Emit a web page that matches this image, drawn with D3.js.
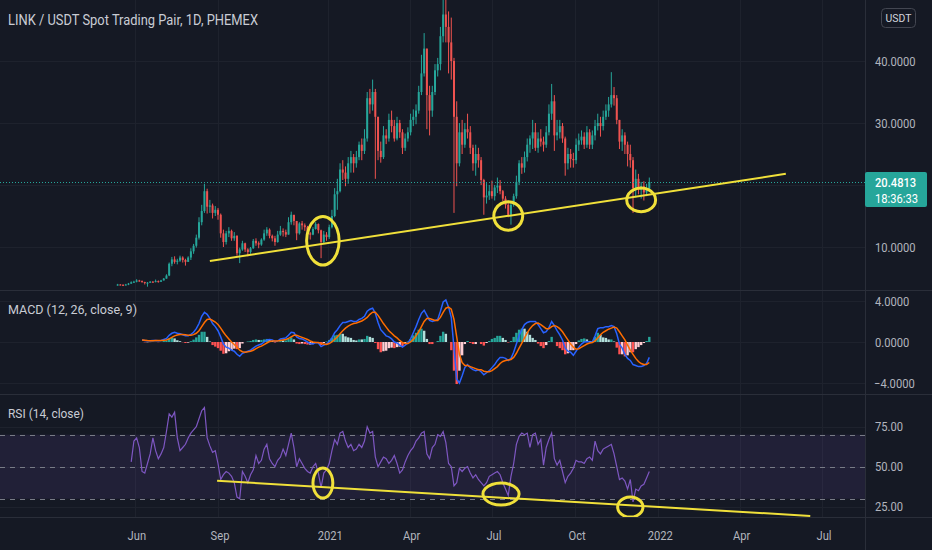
<!DOCTYPE html>
<html><head><meta charset="utf-8">
<script src="https://cdn.jsdelivr.net/npm/d3@7"></script>
<style>html,body{margin:0;padding:0;background:#151924;overflow:hidden}svg{display:block}</style>
</head><body><svg id="c" width="932" height="550"></svg>
<script>
// ---------- DATA ----------
const candleStart = "2020-05-13";   // 3-day candles
const candleStepDays = 3;
const firstOpen = 3.8;
const closes = [3.95,3.9,3.85,3.95,4.1,4.3,4.4,4.6,4.5,4.35,
4.2,4.25,4.4,4.35,4.5,4.4,4.6,4.9,5.4,7.3,
8.0,7.6,7.8,8.3,7.9,7.6,8.3,9.3,10.2,11.5,
14.0,15.8,19.0,16.5,16.7,15.5,16.0,15.2,12.2,10.8,
12.2,12.6,11.4,11.8,9.0,9.6,10.6,9.6,9.2,9.8,
11.0,10.6,10.4,11.2,12.2,12.8,11.8,11.4,10.8,12.0,
12.6,12.4,12.0,14.0,15.2,14.2,12.2,13.8,13.5,13.2,
12.2,12.0,12.9,13.7,12.7,10.8,12.0,11.6,13.2,15.0,
18.5,19.0,22.5,22.0,21.0,23.5,24.5,23.5,24.5,26.5,
25.5,27.5,34.0,33.0,35.0,31.0,25.5,24.5,28.0,27.5,
30.5,29.5,27.5,30.0,28.5,26.0,27.5,28.5,30.5,31.0,
32.0,35.0,38.0,42.0,34.5,32.0,35.0,38.5,39.5,44.0,
47.5,45.5,43.0,40.0,31.0,23.5,28.5,26.5,29.0,28.5,
26.0,23.5,25.0,24.0,20.8,18.0,18.3,19.0,18.2,19.6,
19.9,19.0,17.8,16.8,15.2,16.8,18.2,20.5,23.5,22.8,
24.5,26.5,27.5,28.5,26.0,27.5,27.0,26.5,28.5,31.5,
33.5,28.0,28.5,29.5,27.5,23.5,25.0,24.2,24.0,26.5,
27.2,27.8,26.5,28.5,26.5,28.0,29.5,30.0,29.5,31.0,
32.0,33.0,34.5,34.0,30.5,27.0,28.0,26.5,25.0,24.0,
19.5,21.0,19.2,19.8,18.8,19.4,20.48];
const highs = [4.05,4.0,3.98,4.05,4.2,4.45,4.55,4.8,4.7,4.6,
4.4,4.35,4.5,4.5,4.75,4.6,4.7,5.0,5.6,7.5,
8.4,8.5,8.1,8.6,8.5,8.1,8.5,9.8,10.5,12.0,
14.8,16.8,20.2,19.4,17.6,17.0,16.6,16.3,15.4,12.8,
12.6,13.2,12.8,12.4,11.9,9.9,11.0,10.7,9.8,10.0,
11.3,11.4,10.9,11.4,12.8,13.2,13.0,12.0,11.8,12.6,
13.4,13.0,12.8,14.8,15.7,15.0,14.2,14.0,14.2,13.8,
13.4,12.4,13.2,14.0,13.8,12.8,12.6,12.4,13.6,16.0,
19.5,21.0,23.5,24.0,23.0,24.5,25.5,25.0,25.5,27.0,
27.5,29.0,35.0,35.5,37.0,35.5,31.0,27.0,29.5,29.0,
31.5,32.0,30.5,31.0,30.5,29.0,28.3,29.3,31.5,32.2,
33.0,36.0,41.0,44.5,42.0,36.0,36.0,39.5,40.5,45.5,
50.0,52.8,48.0,47.0,40.5,33.5,30.0,30.5,30.0,31.5,
29.5,26.5,26.5,26.0,24.5,21.0,20.3,20.0,20.7,20.0,
21.2,20.8,19.2,18.2,17.2,17.2,18.6,21.5,24.0,24.5,
25.4,27.5,28.0,30.5,30.0,28.5,29.0,27.8,29.5,33.0,
36.3,34.5,30.5,30.5,30.0,27.8,26.0,25.8,25.2,27.5,
28.3,28.8,28.5,29.5,29.0,28.8,30.5,31.5,31.0,32.0,
33.0,34.2,38.2,35.8,34.5,30.5,29.0,28.5,27.0,26.5,
24.5,22.5,21.8,20.5,20.6,20.2,21.2];
const lows = [3.75,3.8,3.7,3.8,3.85,4.05,4.2,4.3,4.4,4.25,
3.95,3.6,4.2,4.25,4.3,4.25,4.35,4.6,4.9,5.3,
6.9,7.3,7.2,7.6,7.5,7.0,7.6,7.9,8.9,9.9,
11.2,13.5,15.5,15.4,15.5,14.6,15.0,14.4,11.5,10.0,
10.4,11.6,11.0,11.0,8.6,7.4,9.4,9.2,8.5,8.9,
9.7,10.2,9.8,10.2,11.0,11.8,11.4,10.9,10.2,10.7,
11.8,11.7,11.6,12.0,13.6,13.5,11.1,12.0,12.8,12.6,
11.8,11.2,11.9,12.8,12.2,8.2,10.6,11.0,11.3,13.0,
14.8,16.0,18.8,20.8,19.8,20.2,22.0,22.0,22.8,24.0,
24.0,25.0,27.0,31.5,32.0,21.0,24.0,23.6,24.2,26.6,
27.0,28.5,27.0,27.2,27.6,25.0,25.5,27.0,28.0,29.5,
29.8,31.5,34.5,37.5,29.0,28.0,31.0,34.5,37.5,38.5,
43.0,43.0,38.0,37.0,15.5,19.8,23.0,25.0,26.0,27.5,
25.0,22.3,21.5,22.8,20.0,15.2,17.0,17.6,17.8,17.5,
18.7,18.5,17.4,16.2,14.8,13.6,16.5,17.8,20.0,21.8,
22.0,23.8,25.2,25.8,25.5,25.2,26.2,25.4,26.0,28.0,
30.5,25.5,27.2,27.5,26.8,21.5,22.5,22.8,22.8,23.4,
25.5,26.5,25.8,26.0,25.8,25.8,27.2,28.8,27.8,28.8,
30.5,31.0,32.5,32.8,29.8,25.8,25.5,25.0,23.0,22.8,
15.5,18.0,18.5,17.8,17.5,18.2,19.0];

const macdStart = "2020-06-09";
const macdValues = [0.20,0.15,0.12,0.12,0.15,0.15,0.12,0.15,0.25,0.35,
0.65,0.85,0.95,0.85,0.8,0.7,0.6,0.6,0.75,0.95,
1.3,1.8,2.5,2.9,2.7,2.3,1.8,1.5,1.1,0.5,
-0.2,-0.5,-0.6,-0.8,-0.9,-1.2,-1.4,-1.1,-1.0,-0.9,
-0.8,-0.6,-0.4,-0.3,-0.2,0.0,0.2,0.25,0.2,0.05,
0.1,0.3,0.35,0.4,0.65,0.95,0.9,0.5,0.35,0.3,
0.15,0.0,-0.15,-0.2,-0.05,-0.1,-0.45,-0.3,-0.2,0.05,
0.4,0.9,1.2,1.6,1.9,1.9,2.0,2.1,2.0,2.0,
2.2,2.3,2.5,3.0,3.2,3.3,2.8,1.9,1.2,0.9,
0.6,0.5,0.3,0.0,-0.1,-0.3,-0.5,-0.3,-0.1,0.3,
0.9,1.5,2.2,2.8,3.1,2.6,2.1,2.0,2.1,2.2,
3.0,3.9,4.1,3.4,2.4,-0.6,-3.6,-4.0,-3.3,-2.5,
-2.2,-2.5,-2.7,-2.8,-2.7,-2.9,-3.2,-3.0,-2.8,-2.5,
-2.2,-1.8,-1.5,-1.5,-1.6,-1.8,-1.6,-1.0,-0.2,0.6,
1.2,1.7,1.9,2.0,2.0,2.0,1.7,1.3,0.9,1.0,
1.4,2.0,1.6,1.1,0.7,0.2,-0.6,-0.9,-1.0,-1.3,
-0.9,-0.5,-0.2,0.0,0.05,0.0,0.0,0.6,1.3,1.4,
1.4,1.5,1.5,1.6,1.5,0.8,-0.2,-0.6,-1.2,-1.6,
-1.8,-2.2,-2.3,-2.4,-2.4,-2.3,-2.1,-1.5];
const signalValues = [0.20,0.18,0.15,0.13,0.13,0.14,0.14,0.14,0.16,0.2,
0.3,0.45,0.6,0.68,0.72,0.72,0.7,0.66,0.67,0.72,
0.85,1.1,1.5,1.9,2.2,2.25,2.1,1.95,1.7,1.35,
0.95,0.6,0.3,0.0,-0.25,-0.5,-0.8,-0.95,-1.0,-0.95,
-0.9,-0.8,-0.65,-0.5,-0.4,-0.25,-0.1,0.05,0.1,0.1,
0.1,0.15,0.2,0.25,0.35,0.5,0.65,0.65,0.55,0.45,
0.35,0.25,0.1,0.0,-0.05,-0.05,-0.15,-0.2,-0.25,-0.15,
0.0,0.25,0.5,0.8,1.1,1.35,1.55,1.7,1.8,1.85,
1.95,2.05,2.2,2.4,2.7,2.9,2.9,2.6,2.2,1.8,
1.45,1.1,0.85,0.6,0.4,0.15,-0.05,-0.15,-0.15,0.0,
0.25,0.6,1.0,1.5,2.0,2.3,2.3,2.2,2.1,2.1,
2.4,2.9,3.3,3.4,3.2,2.2,0.5,-1.2,-2.0,-2.3,
-2.3,-2.4,-2.5,-2.6,-2.7,-2.7,-2.85,-2.9,-2.9,-2.8,
-2.6,-2.4,-2.1,-1.9,-1.8,-1.75,-1.7,-1.5,-1.1,-0.6,
-0.1,0.4,0.9,1.3,1.6,1.8,1.85,1.7,1.5,1.3,
1.3,1.5,1.6,1.5,1.3,1.0,0.6,0.2,-0.2,-0.5,
-0.7,-0.65,-0.5,-0.35,-0.2,-0.1,-0.05,0.1,0.4,0.7,
0.95,1.1,1.25,1.35,1.45,1.35,1.0,0.6,0.2,-0.3,
-0.8,-1.2,-1.6,-1.9,-2.1,-2.2,-2.2,-2.0];

const rsiStart = "2020-05-28";
const rsiValues = [53,66,68,62,47,46,52,58,68,60,
55,58,62,72,83,81,84,68,60,62,
64,68,71,73,75,80,85,87,68,63,
59,60,52,42,45,47,46,44,40,31,
30,47,44,40,45,48,57,52,54,61,
64,55,52,50,54,56,61,57,64,71,
62,50,55,52,49,47,46,50,52,46,
37,46,48,52,60,67,64,71,72,66,
62,64,60,61,64,62,66,75,71,72,
56,50,53,56,55,52,54,57,52,46,
48,53,57,60,62,66,68,71,72,58,
55,62,64,70,69,72,65,52,50,38,
40,49,47,49,50,46,43,45,42,40,
38,40,44,45,46,47,45,40,36,32,
44,52,64,69,71,70,71,62,70,71,
64,67,51,62,67,71,55,51,54,47,
40,44,46,49,54,53,53,52,55,56,
54,66,60,58,61,62,63,64,58,50,
42,43,41,36,42,28,36,35,38,39,
43,47];

const timeTickDates = ["2020-06-01","2020-09-01","2021-01-01","2021-04-01","2021-07-01","2021-10-01","2022-01-01","2022-04-01","2022-07-01"];
const timeTickLabels = ["Jun","Sep","2021","Apr","Jul","Oct","2022","Apr","Jul"];
const priceGridTicks = [10,20,30,40];
const priceLabelTicks = [10,30,40];   // 20 is hidden behind the last-price tag
const macdTicks = [-4,0,4];
const rsiTicks = [25,50,75];
const rsiBands = [30,50,70];
const lastPrice = 20.4813;
const countdown = "18:36:33";
const currency = "USDT";
const titleText = "LINK / USDT Spot Trading Pair, 1D, PHEMEX";
const macdTitle = "MACD (12, 26, close, 9)";
const rsiTitle = "RSI (14, close)";
// annotations (data space)
const priceTrend = [["2020-08-23",7.74],["2022-05-22",21.8]];
const rsiTrend = [["2020-08-31",41.2],["2022-06-18",19.2]];
const priceCircles = [["2020-12-26",11.0,18,3.9],["2021-07-19",15.0,16.6,2.3],["2021-12-13",17.6,16.6,1.9]];
const rsiCircles = [["2020-12-26",39.8,11,9.4],["2021-07-11",32.9,20,6.9],["2021-12-01",24.8,14,6.3]];

// ---------- SETUP ----------
const parse = d3.utcParse("%Y-%m-%d");
const W = 932, H = 550, PR = 865;
const svg = d3.select("#c");
const BG = "#151924", GRID = "#1e222d", SEP = "#2a2e39", TXT = "#b2b5be";
svg.append("rect").attr("width",W).attr("height",H).attr("fill",BG);

const x = d3.scaleUtc().domain([parse("2020-09-01"), parse("2022-07-01")]).range([218, 822]);
const yP = d3.scaleLinear().domain([10,40]).range([247,61]);
const yM = d3.scaleLinear().domain([-4,4]).range([383,301]);
const yR = d3.scaleLinear().domain([25,75]).range([506.7,426.7]);

const panes = {price:[0,290], macd:[291,394], rsi:[395,517]};
const defs = svg.append("defs");
Object.entries(panes).forEach(([k,[t,b]])=>{
  defs.append("clipPath").attr("id","clip-"+k).append("rect").attr("x",0).attr("y",t).attr("width",PR).attr("height",b-t);
});

const cStart = parse(candleStart);
const candles = closes.map((c,i)=>({
  date: d3.utcDay.offset(cStart, i*candleStepDays),
  open: i===0 ? firstOpen : closes[i-1], close:c, high:highs[i], low:lows[i]
}));
const mStart = parse(macdStart);
const macd = macdValues.map((m,i)=>({date:d3.utcDay.offset(mStart,i*candleStepDays), m, s:signalValues[i], h:m-signalValues[i]}));
const rStart = parse(rsiStart);
const rsi = rsiValues.map((v,i)=>({date:d3.utcDay.offset(rStart,i*candleStepDays), v}));

// ---------- GRID ----------
const grid = svg.append("g");
const tickDates = timeTickDates.map(parse);
Object.values(panes).forEach(([t,b])=>{
  grid.selectAll(null).data(tickDates).enter().append("line")
    .attr("x1",d=>Math.round(x(d))+0.5).attr("x2",d=>Math.round(x(d))+0.5)
    .attr("y1",t).attr("y2",b).attr("stroke",GRID).attr("stroke-width",1);
});
function hgrid(scale, ticks){
  grid.selectAll(null).data(ticks).enter().append("line")
   .attr("x1",0).attr("x2",PR).attr("y1",d=>Math.round(scale(d))+0.5).attr("y2",d=>Math.round(scale(d))+0.5)
   .attr("stroke",GRID);
}
hgrid(yP, priceGridTicks); hgrid(yM, macdTicks); hgrid(yR, rsiTicks);

// RSI band
const rsiG = svg.append("g").attr("clip-path","url(#clip-rsi)");
rsiG.append("rect").attr("x",0).attr("width",PR)
  .attr("y",yR(d3.max(rsiBands))).attr("height",yR(d3.min(rsiBands))-yR(d3.max(rsiBands)))
  .attr("fill","rgba(126,87,194,0.12)");
rsiG.selectAll(null).data(rsiBands).enter().append("line")
  .attr("x1",0).attr("x2",PR).attr("y1",d=>Math.round(yR(d))+0.5).attr("y2",d=>Math.round(yR(d))+0.5)
  .attr("stroke","#787b86").attr("stroke-dasharray","5,5").attr("stroke-width",1);

// ---------- CANDLES ----------
const up = "#26a69a", dn = "#ef5350";
const priceG = svg.append("g").attr("clip-path","url(#clip-price)");
const cg = priceG.selectAll(null).data(candles).enter().append("g");
cg.append("line").attr("x1",d=>x(d.date)).attr("x2",d=>x(d.date))
  .attr("y1",d=>yP(d.high)).attr("y2",d=>yP(d.low))
  .attr("stroke",d=>d.close>=d.open?up:dn).attr("stroke-width",1);
cg.append("rect").attr("x",d=>x(d.date)-1).attr("width",2)
  .attr("y",d=>yP(Math.max(d.open,d.close)))
  .attr("height",d=>Math.max(1,Math.abs(yP(d.open)-yP(d.close))))
  .attr("fill",d=>d.close>=d.open?up:dn);

// last price dotted line
priceG.append("line").attr("x1",0).attr("x2",PR).attr("y1",Math.round(yP(lastPrice))+0.5).attr("y2",Math.round(yP(lastPrice))+0.5)
  .attr("stroke",up).attr("stroke-dasharray","1,2").attr("stroke-width",1);

// ---------- MACD ----------
const macdG = svg.append("g").attr("clip-path","url(#clip-macd)");
macdG.selectAll(null).data(macd).enter().append("rect")
  .attr("x",d=>x(d.date)-1.2).attr("width",2.4)
  .attr("y",d=>Math.min(yM(0),yM(d.h))).attr("height",d=>Math.abs(yM(d.h)-yM(0)))
  .attr("fill",(d,i)=>{
    const p = i>0?macd[i-1].h:d.h;
    if(d.h>=0) return d.h>=p ? "#26a69a" : "#b2dfdb";
    return d.h<p ? "#ff5252" : "#ffcdd2";
  });
macdG.append("path").datum(macd).attr("fill","none").attr("stroke","#2962ff").attr("stroke-width",1.5)
  .attr("d",d3.line().x(d=>x(d.date)).y(d=>yM(d.m)));
macdG.append("path").datum(macd).attr("fill","none").attr("stroke","#ff6d00").attr("stroke-width",1.5)
  .attr("d",d3.line().x(d=>x(d.date)).y(d=>yM(d.s)));

// ---------- RSI ----------
rsiG.append("path").datum(rsi).attr("fill","none").attr("stroke","#7e57c2").attr("stroke-width",1.2)
  .attr("d",d3.line().x(d=>x(d.date)).y(d=>yR(d.v)));

// ---------- ANNOTATIONS ----------
const YEL = "#f0e03a";
function trend(g, pts, ys){
  g.append("line").attr("x1",x(parse(pts[0][0]))).attr("y1",ys(pts[0][1]))
   .attr("x2",x(parse(pts[1][0]))).attr("y2",ys(pts[1][1]))
   .attr("stroke",YEL).attr("stroke-width",2);
}
function loops(g, list, ys){
  list.forEach(([dt,v,dd,dv])=>{
    const c = parse(dt), cx = x(c), cy = ys(v);
    const rx = x(d3.utcDay.offset(c, dd)) - cx, ry = Math.abs(ys(v+dv)-cy);
    const pts = d3.range(0, 12).map(k=>{ const a = -Math.PI/2 + k*2*Math.PI/12; return [cx+rx*Math.cos(a), cy+ry*Math.sin(a)]; });
    g.append("path").attr("d", d3.line().curve(d3.curveCardinalClosed)(pts))
     .attr("fill","none").attr("stroke",YEL).attr("stroke-width",3);
  });
}
trend(priceG, priceTrend, yP); loops(priceG, priceCircles, yP);
trend(rsiG, rsiTrend, yR); loops(rsiG, rsiCircles, yR);

// ---------- SEPARATORS / AXES ----------
[290,394,517].forEach(y=>svg.append("line").attr("x1",0).attr("x2",W).attr("y1",y+0.5).attr("y2",y+0.5).attr("stroke",SEP));
svg.append("line").attr("x1",PR+0.5).attr("x2",PR+0.5).attr("y1",0).attr("y2",H).attr("stroke",SEP);

const FONT = "Roboto, 'Liberation Sans', sans-serif";
function label(x0, y0, s, opt={}){
  return svg.append("text").attr("transform",`translate(${x0},${y0}) scale(${opt.sx||0.86},1)`)
    .attr("font-family",FONT).attr("font-size",opt.size||13).attr("fill",opt.fill||TXT)
    .attr("text-anchor",opt.anchor||"start").attr("font-weight",opt.weight||400).text(s);
}
const fmt4 = d3.format(".4f"), fmt2 = d3.format(".2f");
priceLabelTicks.forEach(v=>label(875, yP(v)+4.5, fmt4(v)));
macdTicks.forEach(v=>label(v<0?874:875, yM(v)+4.5, (v<0?"−":"")+fmt4(Math.abs(v))));
rsiTicks.forEach(v=>label(875, yR(v)+4.5, fmt2(v)));
tickDates.forEach((d,i)=>label(x(d)+2, 540, timeTickLabels[i], {anchor:"middle"}));

// last price box
const ly = yP(lastPrice);
svg.append("rect").attr("x",PR).attr("y",ly-10).attr("width",62).attr("height",35).attr("rx",2).attr("fill",up);
label(875, ly+5, fmt4(lastPrice), {fill:"#ffffff", weight:500});
label(875, ly+21, countdown, {fill:"#ffffff"});

// currency button
svg.append("rect").attr("x",881.5).attr("y",8.5).attr("width",34).attr("height",19).attr("rx",4)
  .attr("fill","none").attr("stroke","#434651");
label(898.5, 22, currency, {anchor:"middle", size:11, fill:"#d1d4dc", sx:0.95});

// titles
svg.append("text").attr("x",8).attr("y",25).attr("font-family",FONT).attr("font-size",14)
  .attr("fill","#c9ccd4").attr("textLength",250).attr("lengthAdjust","spacingAndGlyphs").text(titleText);
svg.append("text").attr("x",8).attr("y",314).attr("font-family",FONT).attr("font-size",13.5)
  .attr("fill","#c9ccd4").attr("textLength",129).attr("lengthAdjust","spacingAndGlyphs").text(macdTitle);
svg.append("text").attr("x",8).attr("y",418).attr("font-family",FONT).attr("font-size",13.5)
  .attr("fill","#c9ccd4").attr("textLength",76).attr("lengthAdjust","spacingAndGlyphs").text(rsiTitle);
</script></body></html>
